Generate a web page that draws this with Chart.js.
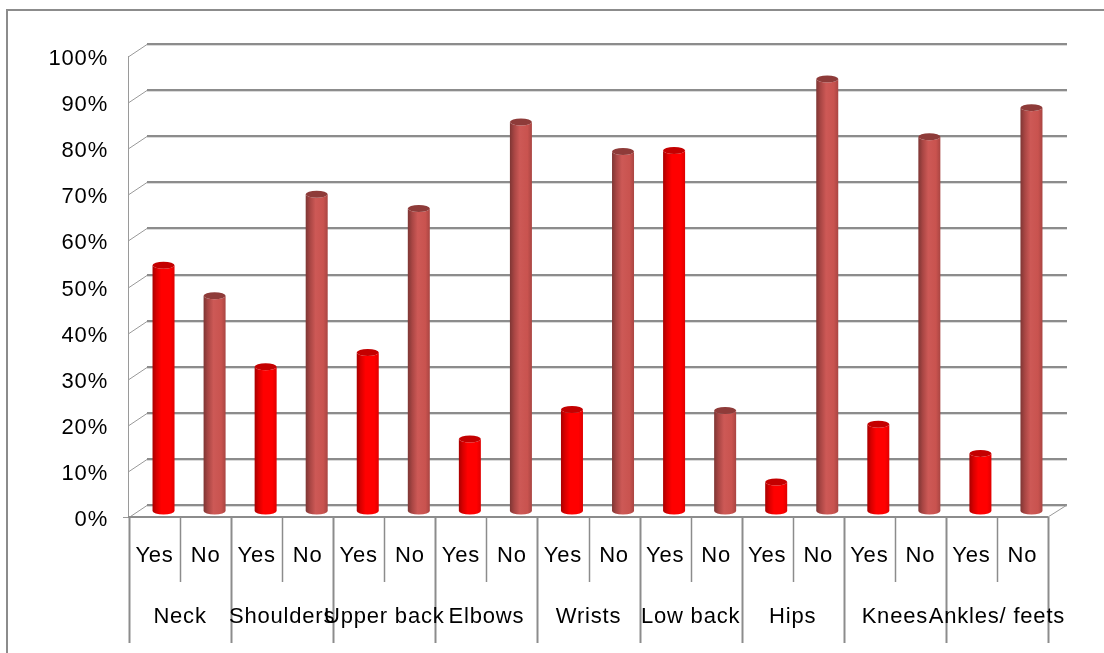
<!DOCTYPE html>
<html>
<head>
<meta charset="utf-8">
<script src="https://cdn.jsdelivr.net/npm/chart.js@4/dist/chart.umd.min.js"></script>
<style>
  html, body { margin: 0; padding: 0; background: #ffffff; }
  #wrap { width: 1104px; height: 653px; position: relative; }
</style>
</head>
<body>
<div id="wrap"><canvas id="chart" width="1104" height="653"></canvas></div>
<script>
// Body regions and share of respondents reporting pain (percent)
const categories = ['Neck', 'Shoulders', 'Upper back', 'Elbows', 'Wrists', 'Low back', 'Hips', 'Knees', 'Ankles/ feets'];
const answers = ['Yes', 'No'];
const yesPct = [53.3, 31.3, 34.4, 15.6, 22.0, 78.2, 6.3, 18.8, 12.5];
const noPct  = [46.7, 68.7, 65.6, 84.4, 78.0, 21.8, 93.7, 81.2, 87.5];
const yTicks = [0, 10, 20, 30, 40, 50, 60, 70, 80, 90, 100];

// One slot per answer inside each region
const slotLabels = [];
const yesSeries = [];
const noSeries = [];
categories.forEach((c, i) => {
  slotLabels.push(answers[0], answers[1]);
  yesSeries.push(yesPct[i], null);
  noSeries.push(null, noPct[i]);
});

const FONT = 'Liberation Sans, Arial, sans-serif';
const LETTER_SPACING = '0.8px';
const DEPTH_X = 18, DEPTH_Y = -12;   // depth of the 3-D floor/walls
const GRID = '#8c8c8c';

function cylinderFill(ctx, x0, x1, kind) {
  const g = ctx.createLinearGradient(x0, 0, x1, 0);
  if (kind === 'yes') {
    g.addColorStop(0, '#a80000');
    g.addColorStop(0.18, '#d80000');
    g.addColorStop(0.4, '#ff0000');
    g.addColorStop(0.8, '#ff0000');
    g.addColorStop(1, '#e00000');
  } else {
    g.addColorStop(0, '#7e3634');
    g.addColorStop(0.2, '#a94644');
    g.addColorStop(0.45, '#cd5956');
    g.addColorStop(0.8, '#c9534f');
    g.addColorStop(1, '#a94542');
  }
  return g;
}

const frame3d = {
  id: 'frame3d',
  beforeDraw(chart) {
    const ctx = chart.ctx;
    ctx.letterSpacing = LETTER_SPACING;
    ctx.save();
    ctx.fillStyle = '#ffffff';
    ctx.fillRect(0, 0, chart.width, chart.height);
    ctx.strokeStyle = '#8c8c8c';
    ctx.lineWidth = 2;
    ctx.strokeRect(7, 10, chart.width + 20, chart.height + 20);
    ctx.restore();
  },
  beforeDatasetsDraw(chart) {
    const ctx = chart.ctx;
    const y = chart.scales.y, x = chart.scales.x;
    const L = chart.chartArea.left, R = chart.chartArea.right, B = chart.chartArea.bottom, T = chart.chartArea.top;
    ctx.save();
    // back wall grid lines with side-wall connectors
    yTicks.forEach(v => {
      const py = Math.round(y.getPixelForValue(v));
      ctx.strokeStyle = '#9a9a9a';
      ctx.lineWidth = 1;
      ctx.beginPath();
      ctx.moveTo(L, py + 0.5);
      ctx.lineTo(L + DEPTH_X, py + DEPTH_Y + 0.5);
      ctx.stroke();
      ctx.strokeStyle = '#dadada';
      ctx.lineWidth = 1;
      ctx.beginPath();
      ctx.moveTo(L + DEPTH_X, py + DEPTH_Y + 1.5);
      ctx.lineTo(R + DEPTH_X + 1, py + DEPTH_Y + 1.5);
      ctx.stroke();
      ctx.strokeStyle = GRID;
      ctx.lineWidth = 2;
      ctx.beginPath();
      ctx.moveTo(L + DEPTH_X, py + DEPTH_Y);
      ctx.lineTo(R + DEPTH_X + 1, py + DEPTH_Y);
      ctx.stroke();
    });
    // side wall front edge
    ctx.strokeStyle = '#9a9a9a';
    ctx.lineWidth = 1;
    ctx.beginPath();
    ctx.moveTo(L - 0.5, T);
    ctx.lineTo(L - 0.5, B);
    ctx.moveTo(L - 6, B + 0.5);
    ctx.lineTo(L, B + 0.5);
    ctx.stroke();
    // floor right edge
    ctx.beginPath();
    ctx.moveTo(R, B);
    ctx.lineTo(R + DEPTH_X + 1, B + DEPTH_Y);
    ctx.stroke();
    // floor front edge
    ctx.strokeStyle = GRID;
    ctx.lineWidth = 2;
    ctx.beginPath();
    ctx.moveTo(L - 1, B);
    ctx.lineTo(R, B);
    ctx.stroke();

    // category table below the axis
    const n = slotLabels.length;
    const slotW = (R - L) / n;
    ctx.strokeStyle = GRID;
    for (let i = 0; i <= n; i++) {
      const bx = Math.round(L + i * slotW) + 0.5;
      const major = i % 2 === 0;
      ctx.lineWidth = major ? 2 : 1.5;
      ctx.beginPath();
      ctx.moveTo(bx, B);
      ctx.lineTo(bx, major ? 643 : 582);
      ctx.stroke();
    }
    ctx.fillStyle = '#000000';
    ctx.font = '22px ' + FONT;
    ctx.letterSpacing = LETTER_SPACING;
    ctx.textAlign = 'center';
    ctx.textBaseline = 'middle';
    categories.forEach((c, i) => {
      const cx = (x.getPixelForValue(2 * i) + x.getPixelForValue(2 * i + 1)) / 2;
      ctx.fillText(c, cx, 617);
    });
    ctx.restore();
  },
  afterDatasetsDraw(chart) {
    const ctx = chart.ctx;
    ctx.save();
    chart.data.datasets.forEach((ds, di) => {
      const meta = chart.getDatasetMeta(di);
      const kind = di === 0 ? 'yes' : 'no';
      meta.data.forEach((bar, i) => {
        if (ds.data[i] == null) return;
        const rx = bar.width / 2, ry = 3.5;
        const cx = bar.x + DEPTH_X / 2;
        const top = bar.y + DEPTH_Y / 2;
        const base = bar.base + DEPTH_Y / 2;
        ctx.fillStyle = cylinderFill(ctx, cx - rx, cx + rx, kind);
        ctx.beginPath();
        ctx.moveTo(cx - rx, top);
        ctx.lineTo(cx - rx, base);
        ctx.ellipse(cx, base, rx, ry, 0, Math.PI, 0, true);
        ctx.lineTo(cx + rx, top);
        ctx.ellipse(cx, top, rx, ry, 0, 0, Math.PI, false);
        ctx.closePath();
        ctx.fill();
        ctx.fillStyle = kind === 'yes' ? '#c40000' : '#8e3b39';
        ctx.beginPath();
        ctx.ellipse(cx, top, rx, ry, 0, 0, Math.PI * 2);
        ctx.fill();
      });
    });
    ctx.restore();
  }
};

new Chart(document.getElementById('chart'), {
  type: 'bar',
  data: {
    labels: slotLabels,
    datasets: [
      { label: 'Yes', data: yesSeries, grouped: false, barThickness: 22, backgroundColor: 'rgba(0,0,0,0)', borderWidth: 0 },
      { label: 'No', data: noSeries, grouped: false, barThickness: 22, backgroundColor: 'rgba(0,0,0,0)', borderWidth: 0 }
    ]
  },
  options: {
    responsive: false,
    animation: false,
    layout: { padding: { left: 0, right: 56, top: 56, bottom: 0 } },
    plugins: { legend: { display: false }, tooltip: { enabled: false } },
    scales: {
      x: {
        offset: true,
        grid: { display: false, drawTicks: false },
        border: { display: false },
        ticks: {
          autoSkip: false, maxRotation: 0, minRotation: 0, padding: 26,
          color: '#000000', font: { family: FONT, size: 22 }
        },
        afterFit(scale) { scale.height = 136; }
      },
      y: {
        min: 0, max: 100,
        grid: { display: false, drawTicks: false },
        border: { display: false },
        afterBuildTicks(scale) { scale.ticks = yTicks.map(v => ({ value: v })); },
        ticks: {
          padding: 21, labelOffset: 3,
          color: '#000000', font: { family: FONT, size: 22 },
          callback: v => v + '%'
        },
        afterFit(scale) { scale.width = 129; }
      }
    }
  },
  plugins: [frame3d]
});
</script>
</body>
</html>
